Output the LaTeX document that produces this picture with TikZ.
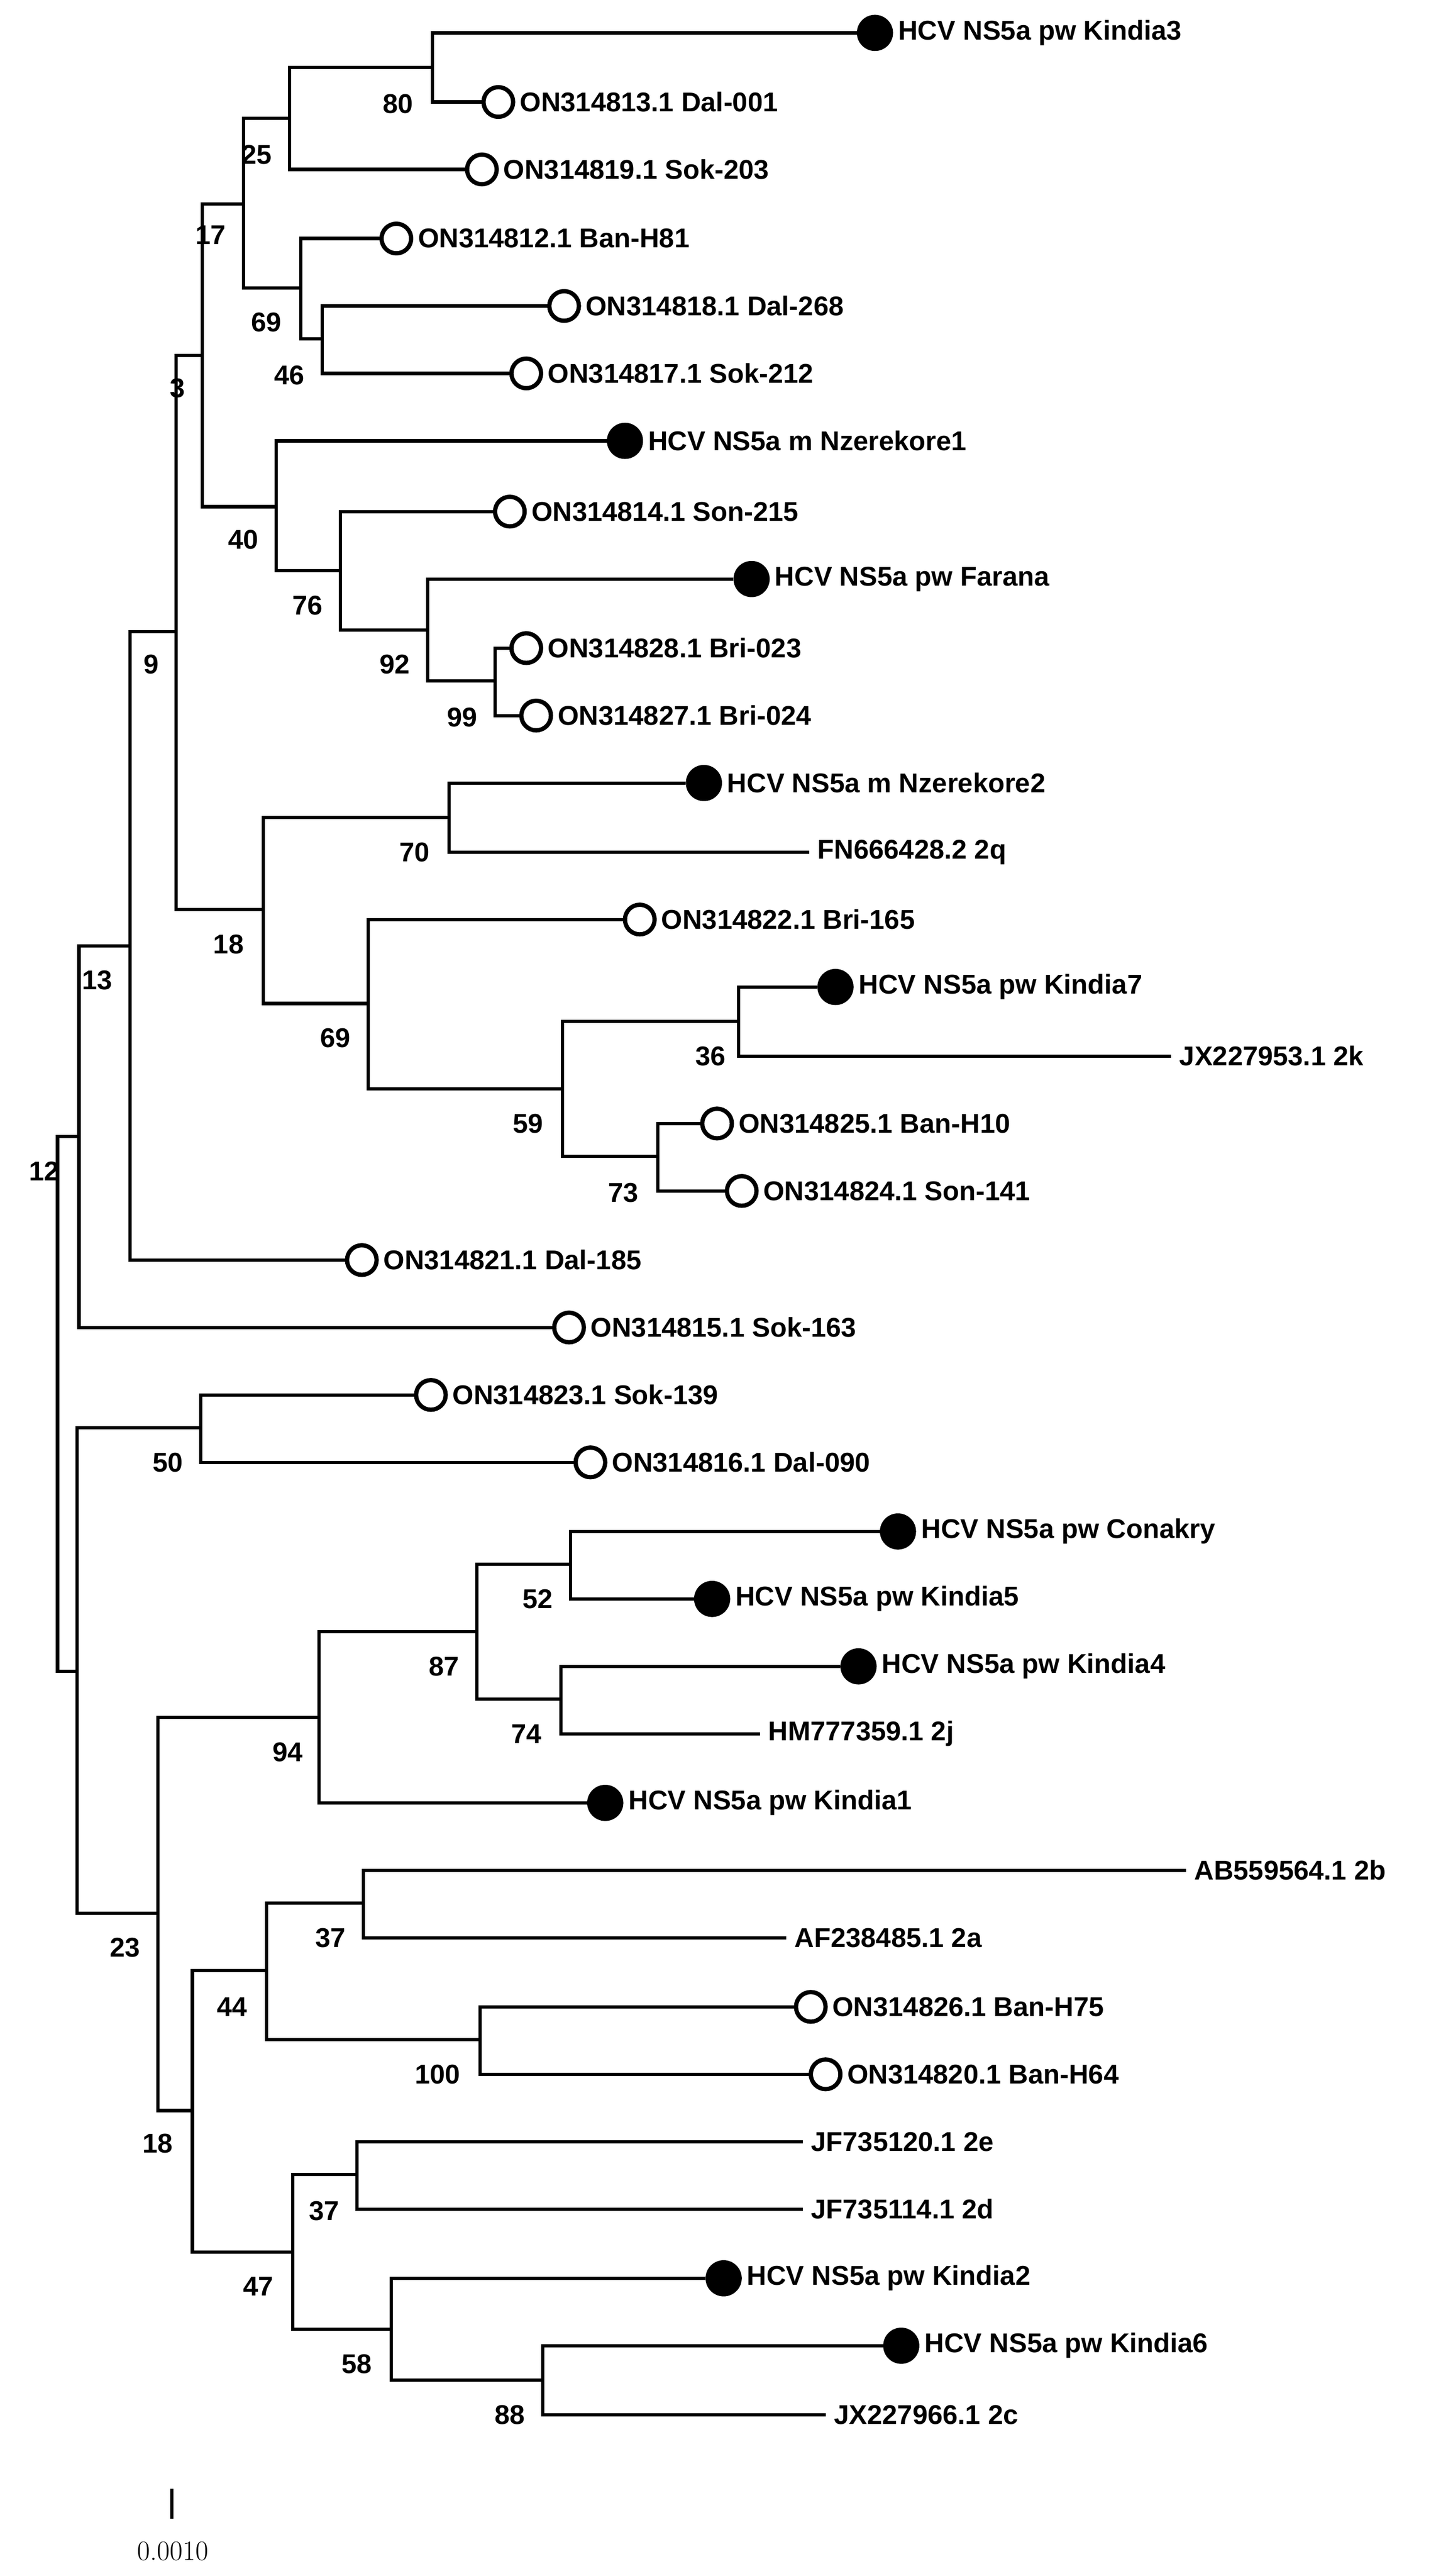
\documentclass[tikz,border=0pt]{standalone}
\usepackage{fontspec}
\setmainfont{Liberation Sans}
\newfontfamily\lmserif{Latin Modern Roman}
\begin{document}
\begin{tikzpicture}[x=1pt,y=-1pt,
  br/.style={line width=2pt},
  lab/.style={font=\fontsize{16.5}{18}\selectfont\bfseries, inner sep=0pt},
  tiplab/.style={font=\fontsize{16.5}{18}\selectfont\bfseries, anchor=west, inner sep=0pt},
  ocirc/.style={circle, draw, line width=2.6pt, minimum size=18pt, inner sep=0pt, fill=white},
  fcirc/.style={circle, draw, fill=black, line width=1pt, minimum size=21pt, inner sep=0pt}]
\useasboundingbox (0,0) rectangle (873,1566);
\newcommand{\leafO}[4]{\coordinate (#1) at ({#2-10},#3);
  \node[ocirc] (#1c) at (#2,#3) {}; \node[tiplab] (#1t) at ({#2+13},#3) {#4};}
\newcommand{\leafF}[4]{\coordinate (#1) at ({#2-11},#3);
  \node[fcirc] (#1c) at (#2,#3) {}; \node[tiplab] (#1t) at ({#2+14},#3) {#4};}
\newcommand{\leafT}[4]{\coordinate (#1) at ({#2-8},#3);
  \node[tiplab] (#1t) at ({#2-3},#3) {#4};}
% leaves
\leafF{L1}{532}{20}{HCV NS5a pw Kindia3}
\leafO{L2}{303}{62}{ON314813.1 Dal-001}
\leafO{L3}{293}{103}{ON314819.1 Sok-203}
\leafO{L4}{241}{145}{ON314812.1 Ban-H81}
\leafO{L5}{343}{186}{ON314818.1 Dal-268}
\leafO{L6}{320}{227}{ON314817.1 Sok-212}
\leafF{L7}{380}{268}{HCV NS5a m Nzerekore1}
\leafO{L8}{310}{311}{ON314814.1 Son-215}
\leafF{L9}{457}{352}{HCV NS5a pw Farana}
\leafO{L10}{320}{394}{ON314828.1 Bri-023}
\leafO{L11}{326}{435}{ON314827.1 Bri-024}
\leafF{L12}{428}{476}{HCV NS5a m Nzerekore2}
\leafT{L13}{500}{518}{FN666428.2 2q}
\leafO{L14}{389}{559}{ON314822.1 Bri-165}
\leafF{L15}{508}{600}{HCV NS5a pw Kindia7}
\leafT{L16}{720}{642}{JX227953.1 2k}
\leafO{L17}{436}{683}{ON314825.1 Ban-H10}
\leafO{L18}{451}{724}{ON314824.1 Son-141}
\leafO{L19}{220}{766}{ON314821.1 Dal-185}
\leafO{L20}{346}{807}{ON314815.1 Sok-163}
\leafO{L21}{262}{848}{ON314823.1 Sok-139}
\leafO{L22}{359}{889}{ON314816.1 Dal-090}
\leafF{L23}{546}{931}{HCV NS5a pw Conakry}
\leafF{L24}{433}{972}{HCV NS5a pw Kindia5}
\leafF{L25}{522}{1013}{HCV NS5a pw Kindia4}
\leafT{L26}{470}{1054}{HM777359.1 2j}
\leafF{L27}{368}{1096}{HCV NS5a pw Kindia1}
\leafT{L28}{729}{1137}{AB559564.1 2b}
\leafT{L29}{486}{1178}{AF238485.1 2a}
\leafO{L30}{493}{1220}{ON314826.1 Ban-H75}
\leafO{L31}{502}{1261}{ON314820.1 Ban-H64}
\leafT{L32}{496}{1302}{JF735120.1 2e}
\leafT{L33}{496}{1343}{JF735114.1 2d}
\leafF{L34}{440}{1385}{HCV NS5a pw Kindia2}
\leafF{L35}{548}{1426}{HCV NS5a pw Kindia6}
\leafT{L36}{510}{1468}{JX227966.1 2c}
% internal nodes
\newcommand{\inode}[7]{\coordinate (#1) at (#2,#3);
  \draw[br] (#1) |- (#4); \draw[br] (#1) |- (#5);
  \node[lab] (#1l) at (#6) {#7};}
\inode{a80}{263}{41}{L1}{L2}{242,63}{80}
\inode{a25}{176}{72}{a80}{L3}{156,94}{25}
\inode{a46}{196}{206}{L5}{L6}{176,228}{46}
\inode{a69}{183}{175}{L4}{a46}{162,196}{69}
\inode{a17}{148}{124}{a25}{a69}{128,143}{17}
\inode{a99}{301}{414}{L10}{L11}{281,436}{99}
\inode{a92}{260}{383}{L9}{a99}{240,404}{92}
\inode{a76}{207}{347}{L8}{a92}{187,368}{76}
\inode{a40}{168}{308}{L7}{a76}{148,328}{40}
\inode{a3}{123}{216}{a17}{a40}{108,236}{3}
\inode{a70}{273}{497}{L12}{L13}{252,518}{70}
\inode{a36}{449}{621}{L15}{L16}{432,642}{36}
\inode{a73}{400}{703}{L17}{L18}{379,725}{73}
\inode{a59}{342}{662}{a36}{a73}{321,683}{59}
\inode{a69b}{224}{610}{L14}{a59}{204,631}{69}
\inode{a18}{160}{553}{a70}{a69b}{139,574}{18}
\inode{a9}{107}{384}{a3}{a18}{92,404}{9}
\inode{a13}{79}{575}{a9}{L19}{59,596}{13}
\inode{a13p}{48}{691}{a13}{L20}{27,712}{12}
\inode{a50}{122}{868}{L21}{L22}{102,889}{50}
\inode{a52}{347}{951}{L23}{L24}{327,972}{52}
\inode{a74}{341}{1033}{L25}{L26}{320,1054}{74}
\inode{a87}{290}{992}{a52}{a74}{270,1013}{87}
\inode{a94}{194}{1044}{a87}{L27}{175,1065}{94}
\inode{a37}{221}{1157}{L28}{L29}{201,1178}{37}
\inode{a100}{292}{1240}{L30}{L31}{266,1261}{100}
\inode{a44}{162}{1198}{a37}{a100}{141,1220}{44}
\inode{a37b}{217}{1322}{L32}{L33}{197,1344}{37}
\inode{a88}{330}{1447}{L35}{L36}{310,1468}{88}
\inode{a58}{238}{1416}{L34}{a88}{217,1437}{58}
\inode{a47}{178}{1369}{a37b}{a58}{157,1390}{47}
\inode{a18b}{117}{1283}{a44}{a47}{96,1303}{18}
\inode{a23}{96}{1163}{a94}{a18b}{76,1184}{23}
\coordinate (a23p) at (47,1016);
\draw[br] (a23p) |- (a50); \draw[br] (a23p) |- (a23);
\coordinate (root) at (35,853);
\draw[br] (root) |- (a13p); \draw[br] (root) |- (a23p);
% scale bar
\coordinate (sb1) at (104.5,1513); \coordinate (sb2) at (104.5,1531);
\draw[line width=2pt] (sb1) -- (sb2);
\node[font=\lmserif\fontsize{17}{19}\selectfont, inner sep=0pt] (sbl) at (105,1551) {0.0010};
\end{tikzpicture}
\end{document}
